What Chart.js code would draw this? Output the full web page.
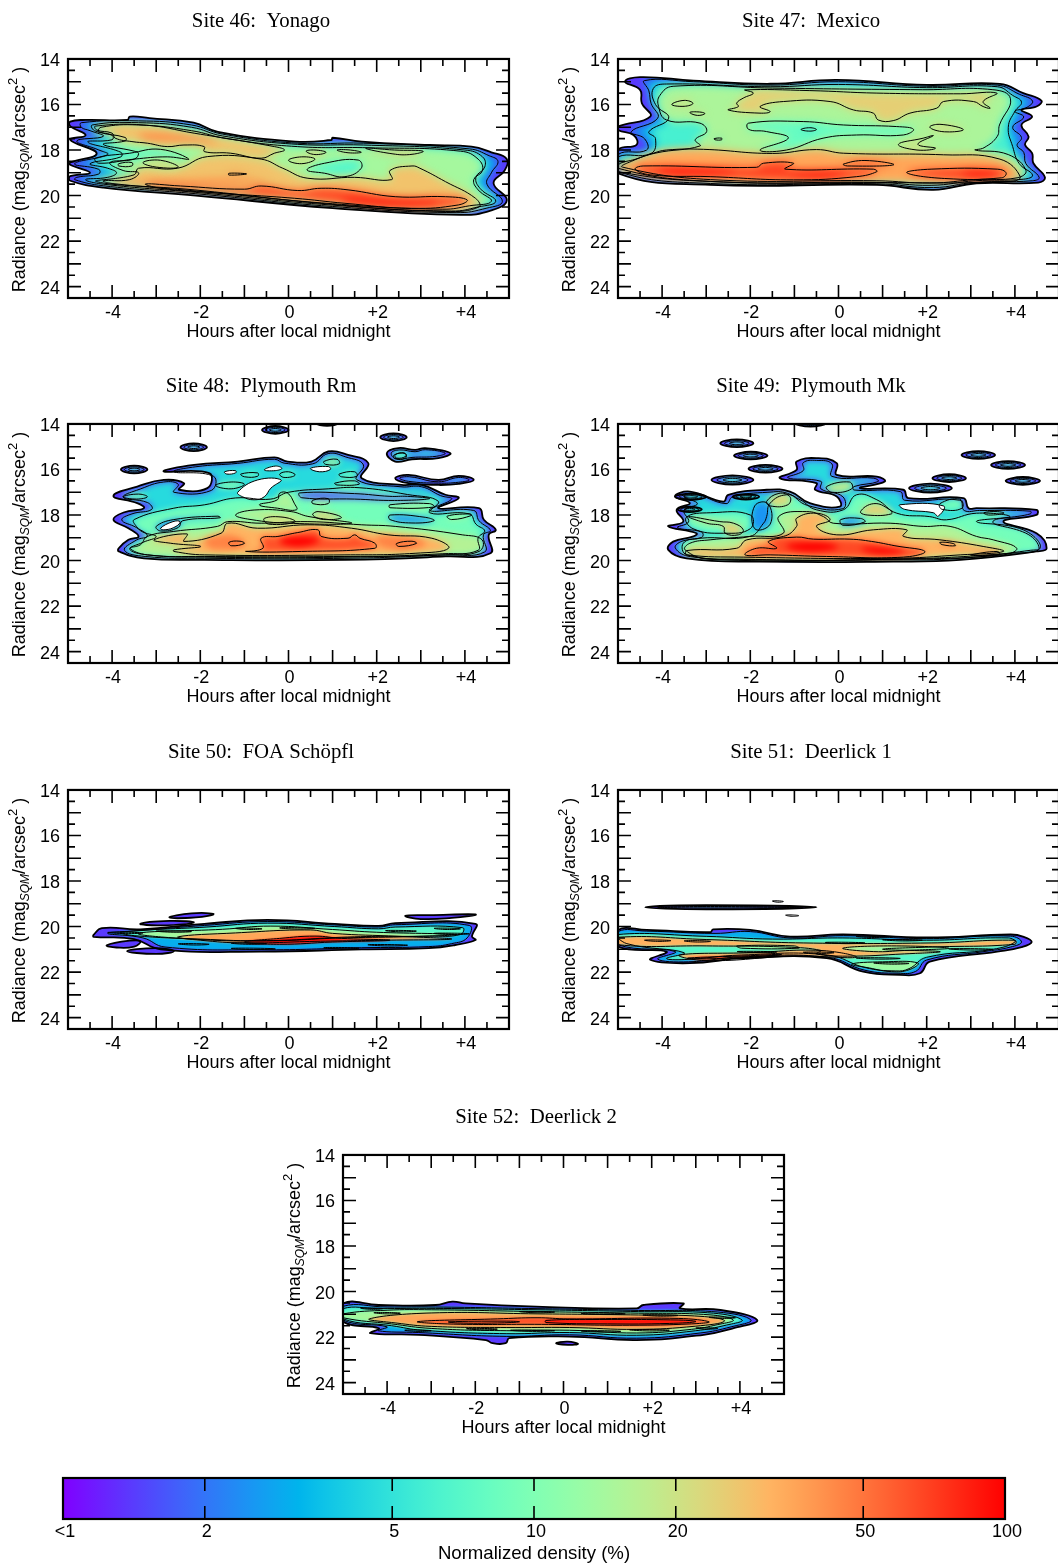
<!DOCTYPE html>
<html lang="en">
<head>
<meta charset="UTF-8">
<title>Sky radiance density, sites 46-52</title>
<script src="https://cdn.jsdelivr.net/npm/chart.js"></script>
<style>
  html, body { margin: 0; padding: 0; background: #fff; }
  body { position: relative; width: 1058px; height: 1563px; overflow: hidden; }
  canvas { position: absolute; }
</style>
</head>
<body>
<script>
// axes
const hourLabels = [-4, -2, 0, 2, 4];
const hourMajor = [-4, -3, -2, -1, 0, 1, 2, 3, 4];
const hourMinor = [-4.5, -3.5, -2.5, -1.5, -0.5, 0.5, 1.5, 2.5, 3.5, 4.5];
const radLabels = [14, 16, 18, 20, 22, 24];
const radMajor = [15, 16, 17, 18, 19, 20, 21, 22, 23, 24];
const radMinor = [14.5, 15.5, 16.5, 17.5, 18.5, 19.5, 20.5, 21.5, 22.5, 23.5];
const barTicks = [1, 2, 5, 10, 20, 50, 100];

// contours: [density inside the line, hour, mag, hour, mag, ...], painted in this order
// a negative density is a colour peak with no line round it, 0 is an empty hole
const yonagoLines = [
  [1.4, -4.95,16.75,-4.6,16.68,-3.65,16.68,-3.6,16.53,-3.15,16.6,-2.15,16.8,-1.6,17.2,0.15,17.63,0.97,17.56,1.0,17.46,1.66,17.63,3.2,17.78,4.15,17.85,4.6,18.1,4.95,18.4,4.9,18.9,4.65,19.46,4.95,20.2,4.6,20.65,3.9,20.85,1.0,20.55,-2.1,20.0,-4.2,19.65,-4.95,19.35,-4.95,19.15,-4.5,19.0,-4.95,18.65,-4.95,18.55,-4.35,18.15,-4.95,17.55,-4.6,17.35,-4.95,16.95],
  [3, -4.7,16.8,-3.4,16.72,-2.2,16.9,-1.5,17.3,0.2,17.7,1.7,17.7,4.1,17.95,4.55,18.25,4.75,18.5,4.6,19.0,4.5,19.5,4.85,20.25,4.5,20.55,3.8,20.75,1,20.48,-2.1,19.92,-4.2,19.57,-4.85,19.3,-4.8,19.2,-4.3,19.05,-4.3,18.85,-4.85,18.6,-4.1,18.2,-4.3,18.0,-4.8,17.6,-4.2,17.4,-4.5,17.15,-4.7,17.0],
  [7, -4.45,16.9,-3.4,16.8,-2.2,17.0,-1.5,17.38,0.2,17.75,1.7,17.78,4.0,18.0,4.4,18.3,4.45,18.75,4.25,19.2,4.35,19.7,4.7,20.25,4.3,20.5,3.7,20.68,1,20.42,-2.1,19.86,-4.2,19.5,-4.6,19.3,-4.1,19.2,-3.9,19.0,-4.1,18.8,-4.5,18.6,-3.8,18.3,-3.8,18.1,-4.55,17.65,-4.0,17.55,-4.0,17.35,-4.4,17.15],
  [14, -4.25,17.0,-3.4,16.9,-2.2,17.15,-1.4,17.5,0.2,17.85,1.8,17.9,3.9,18.05,4.3,18.4,4.4,18.9,4.2,19.3,4.3,19.75,4.6,20.25,4.1,20.45,3.5,20.6,1,20.36,-2.1,19.8,-4.0,19.47,-4.2,19.35,-3.6,19.3,-3.4,19.0,-3.75,18.9,-4.05,18.55,-3.5,18.4,-3.4,18.15,-3.5,18.05,-4.2,17.75,-3.7,17.6,-3.7,17.45,-4.3,17.2],
  [7, -4.38,18.36,-3.6,18.14,-2.9,17.97,-2.26,18.4,-2.75,18.3,-3.5,18.4,-4.3,18.58],
  [7, 0.42,18.87,0.82,18.58,1.58,18.44,1.65,18.8,1.28,19.17,0.82,19.02],
  [28, -4.38,16.95,-3.28,16.9,-2.14,17.26,-0.32,17.85,-0.09,18.0,-0.32,18.14,-0.62,18.36,-1.31,18.14,-1.91,18.07,-1.91,17.85,-2.37,17.78,-2.75,17.85,-3.2,17.7,-3.55,17.63,-3.93,17.48,-4.0,17.26,-4.35,17.12],
  [28, -4.35,19.39,-3.5,19.09,-3.4,18.8,-2.52,18.8,-1.84,18.29,-0.62,18.4,-0.13,18.8,0.44,19.24,1.5,19.2,2.34,19.3,2.3,18.9,2.8,18.7,2.98,18.8,3.56,19.39,4.24,20.12,4.32,20.5,3.56,20.7,0.9,20.37,-2.14,19.75],
  [-44, -3.4,17.3,-2.5,17.35,-1.6,17.65,-2.5,17.6,-3.3,17.5],
  [-40, -4,19.45,-2.5,19.3,-1,19.25,-0.5,19.4,-2.5,19.55],
  [30, 0.4,18.05,0.6,18.0,0.85,18.1,0.6,18.2],
  [30, 1.1,18.0,1.4,18.0,1.65,18.1,1.35,18.12],
  [30, 1.75,17.92,2.4,18.0,3.05,18.05,2.75,18.2,2.3,18.15],
  [22, 0.0,18.45,0.3,18.3,0.6,18.4,0.3,18.6],
  [22, -3.85,18.6,-3.55,18.55,-3.55,18.7,-3.85,18.7],
  [22, -3.3,18.55,-2.9,18.45,-2.5,18.75,-3.0,18.75],
  [65, -3.24,19.49,-2.45,19.58,-1.0,19.72,-0.62,19.58,0.21,19.78,0.74,19.68,1.35,19.75,2.42,20.05,3.56,20.05,4.05,20.19,3.86,20.41,2.8,20.56,1.28,20.34,0.14,20.12,-1.76,19.87,-2.9,19.68],
  [-100, 1.2,20.15,2.4,20.25,3.4,20.3,2.6,20.42,1.4,20.3],
  [45, -1.35,19.02,-0.95,19.05,-1.35,19.1]
];

const mexicoLines = [
  [1.4, -4.84,15.0,-4.5,14.8,-3.29,14.95,-1.55,15.09,-0.04,14.92,2.0,15.14,3.66,15.09,4.19,15.5,4.6,15.83,4.49,16.09,4.15,16.24,4.39,16.53,4.15,16.9,4.31,17.41,4.23,17.77,4.39,18.14,4.42,18.58,4.68,19.2,4.53,19.43,3.13,19.46,2.15,19.75,0.87,19.53,-2.91,19.53,-5,19.02,-5,18.0,-4.58,17.77,-4.65,17.34,-5,17.12,-5,16.97,-4.27,16.53,-4.46,15.94,-4.5,15.36],
  [3, -4.4,14.95,-3.29,15.0,-1.55,15.15,0,15.0,2,15.2,3.6,15.15,4.1,15.55,4.4,15.85,4.25,16.15,4.0,16.3,4.2,16.55,3.95,17,4.15,17.45,4.05,17.8,4.2,18.1,4.25,18.6,4.55,19.2,4.4,19.35,3.1,19.42,2.15,19.65,0.87,19.48,-2.9,19.47,-5,18.95,-5,18.2,-4.35,18.0,-4.4,17.5,-4.7,17.2,-4.1,16.6,-4.25,15.95,-4.3,15.4],
  [6, -4.2,15.3,-3.9,15.1,-1.55,15.22,0,15.12,2,15.26,3.6,15.22,3.95,15.6,4.15,15.9,4.0,16.3,3.85,17,3.95,17.85,4.1,18.6,4.4,19.1,4.2,19.28,3.1,19.35,2.1,19.55,0.87,19.42,-2.9,19.38,-5,18.8,-5,18.3,-4.25,18.15,-4.15,17.5,-4.3,17.2,-3.85,16.6,-4.15,16.0],
  [15, -4.05,15.6,-3.75,15.2,-1.5,15.28,1.9,15.35,3.5,15.35,3.9,15.75,3.65,16.9,3.6,17.4,3.3,17.9,3.1,18.0,3.85,18.2,4.25,18.9,4.05,19.22,3.1,19.3,2.1,19.45,0.87,19.35,-2.9,19.3,-4.9,18.75,-4.7,18.5,-4.16,18.14,-3.14,17.82,-3.25,17.55,-2.99,17.19,-3.14,16.82,-3.9,16.68,-4.08,16.09],
  [8, -2.04,16.82,-2.04,17.09,-1.63,17.19,-1.14,17.48,-1.78,18.0,-1.18,18.0,-0.35,17.48,0.41,17.34,1.47,17.34,1.7,17.09,1.32,16.97,0.11,16.9,-0.8,16.75],
  [5, -0.85,17.1,-0.65,17.02,-0.5,17.1,-0.65,17.17],
  [25, -2.12,15.36,-1.93,15.5,-2.16,15.72,-2.31,15.94,-2.27,16.09,-2.5,16.24,-1.78,16.38,-1.55,16.31,-1.78,16.09,-1.25,15.87,-0.19,15.87,0.34,16.24,0.79,16.38,0.9,16.68,1.24,16.71,1.62,16.38,2.23,16.16,2.38,15.87,3.06,15.87,3.28,16.09,3.44,16.16,3.28,15.87,3.59,15.5,2.76,15.53,0.87,15.5,-0.65,15.39],
  [22, -3.78,16.0,-3.5,15.82,-3.3,15.95,-3.5,16.08],
  [22, -3.37,16.35,-3.15,16.33,-3.03,16.4,-3.2,16.48],
  [22, 2.07,17.0,2.3,16.87,2.83,17.1,2.4,17.2],
  [20, 1.36,17.75,1.92,17.48,2.15,17.37,1.8,17.75,2.2,17.92,1.78,18.0],
  [5, -2.82,17.5,-2.65,17.48,-2.65,17.55,-2.8,17.55],
  [35, -5,18.65,-4.6,18.4,-4.2,18.14,-3.9,18.0,-3.06,17.97,-1.5,18.15,-0.5,17.98,0.11,18.14,2.38,18.21,3.66,18.4,4.12,19.17,3.89,19.38,0.87,19.43,-2.91,19.38,-5,18.95],
  [68, -4.61,18.84,-4.43,18.7,-1.86,18.76,-1.7,18.58,-1.02,18.58,-1.21,18.84,0.79,18.84,0.87,18.95,0.41,19.17,-1.02,19.31,-2.91,19.17,-4.27,19.09],
  [58, 0.11,18.62,0.6,18.46,1.25,18.65,0.2,18.7],
  [68, 1.55,19.0,2.1,18.84,3.6,18.84,3.8,19.0,3.7,19.22,2.4,19.25],
  [-100, -4.1,18.9,-3,18.88,-2.3,18.95,-3,19.05,-4,19.02],
  [-95, -1.2,19.08,-0.3,19,0.2,19.05,-0.5,19.18],
  [-95, 2.8,19,3.5,18.98,3.6,19.1,3,19.12]
];

const plymouthRmLines = [
  [1.4, -3.97,17.16,-3.43,16.75,-2.83,16.46,-2.37,16.6,-2.48,16.89,-1.84,16.82,-1.8,16.16,-2.83,16.09,-2.14,15.8,-1.15,15.65,-0.32,15.47,-0.02,15.65,0.52,15.65,0.9,15.21,1.35,15.36,1.81,15.72,1.66,16.38,2.57,16.68,3.02,16.68,3.56,17.11,3.86,17.26,3.4,17.7,4.32,17.7,4.43,18.21,4.7,18.65,4.54,18.87,4.58,19.68,3.56,19.82,1.28,19.97,-1.9,19.97,-3.28,19.9,-3.85,19.6,-3.85,19.46,-3.63,19.09,-3.4,18.94,-3.63,18.58,-3.97,18.21,-3.74,17.89,-3.28,17.7,-3.43,17.48],
  [4.5, -3.75,17.22,-3.35,16.85,-2.83,16.55,-2.5,16.65,-2.6,17.0,-1.75,16.92,-1.7,16.3,-2.6,16.1,-2.1,15.88,-1.15,15.73,-0.32,15.55,-0.1,15.72,0.55,15.75,0.9,15.3,1.3,15.45,1.7,15.8,1.55,16.45,2.55,16.76,3.02,16.76,3.45,17.15,3.7,17.3,3.2,17.8,4.2,17.8,4.32,18.25,4.58,18.68,4.42,18.87,4.45,19.62,3.56,19.75,1.28,19.9,-1.9,19.9,-3.25,19.82,-3.72,19.55,-3.45,19.1,-3.2,18.92,-3.45,18.55,-3.78,18.22,-3.55,17.95,-3.1,17.75,-3.2,17.45],
  [9, -3.45,18.5,-3.5,18.2,-2.6,17.7,-1.9,17.55,-1.2,17.25,-0.4,17.3,0,17,0.9,16.85,1.6,16.8,2.7,17.1,3.4,17.4,3.2,17.9,4.1,17.95,4.25,18.4,4.45,18.7,4.3,19.0,4.3,19.55,3.5,19.7,1.28,19.85,-1.9,19.85,-3.2,19.75,-3.6,19.5,-3.3,19.2,-3.0,18.95,-3.3,18.75],
  [16, -3.2,18.94,-2.6,18.72,-1.61,18.5,-1.38,18.29,-0.62,18.36,0.44,18.29,1.66,18.43,2.42,18.5,3.94,18.87,4.39,19.09,4.32,19.6,3.56,19.75,1.28,19.82,-1.91,19.82,-3.2,19.75,-3.59,19.46,-3.36,19.31],
  [15, -0.66,17.55,-0.25,17.33,-0.2,17.04,-0.02,17.04,0.13,17.48,0.18,17.77,-0.25,17.7],
  [16, -1.2,18.0,-0.78,17.78,0.06,17.85,0.44,18.06,1.43,18.36,0.0,18.36,-0.85,18.2],
  [11, -3.75,17.2,-3.4,17.08,-3.2,17.2,-3.45,17.3],
  [11, -1.65,16.7,-1.3,16.55,-1,16.65,-1.3,16.85],
  [9, -0.2,16.2,0,16.1,0.15,16.25,-0.1,16.35],
  [9, -1.08,16.2,-0.7,16.15,-0.7,16.3,-1.0,16.32],
  [16, 0.8,15.65,1.1,15.55,1.15,15.75,0.85,15.78],
  [9, 1.15,16.2,1.5,16.1,1.55,16.3,1.2,16.32],
  [15, 0.55,17.35,0.9,17.28,0.9,17.5,0.55,17.5],
  [14, 2.3,17.55,3.2,17.5,3.3,17.65,2.3,17.68],
  [9, 2.4,15.35,2.65,15.3,2.65,15.5,2.4,15.5],
  [14, 1.05,16.6,1.5,16.5,1.6,16.65,1.1,16.68],
  [14, 3.6,18.05,4.1,17.95,4.15,18.02,3.7,18.2],
  [32, -3.05,19.09,-2.3,18.83,-2.37,19.16,-1.53,18.8,-1.38,18.36,-0.7,18.58,0.44,18.43,1.43,18.58,2.26,18.87,3.25,19.02,3.63,19.46,2.87,19.68,1.28,19.75,-1.91,19.75,-2.6,19.6,-2.6,19.53,-1.99,19.38,-2.67,19.24],
  [-45, -1.9,19.1,-1.3,18.9,-1,19.3,-1.7,19.5],
  [-45, 2,18.95,3,19.1,3.1,19.35,2.2,19.45],
  [24, 0.67,17.85,1.2,18.1,0.8,18.2,0.55,18.0],
  [22, -0.55,18.15,-0.1,18.1,0.15,18.3,-0.45,18.4],
  [62, -0.96,19.6,-0.58,19.46,-0.62,19.02,-0.24,18.94,0.21,18.77,0.67,18.65,0.74,18.94,1.35,19.02,1.5,18.87,1.62,19.02,1.96,19.24,1.96,19.46,0.29,19.6],
  [-100, -0.2,19.1,0.3,18.95,0.7,19.1,0.4,19.35,-0.1,19.3],
  [50, -1.35,19.2,-1.1,19.15,-1.0,19.25,-1.3,19.35],
  [50, 2.45,19.25,2.8,19.15,2.9,19.25,2.5,19.38],
  [1.6, 0.25,17.03,1.5,17.06,2.3,17.18,2.7,17.18,3.2,17.28,2.4,17.36,1.5,17.3,0.3,17.24],
  [2.5, -3,18.5,-2.6,18.2,-1.6,18.05,-1.55,18.12,-2.4,18.25,-2.5,18.55,-2.9,18.7],
  [2.5, 2.3,18.0,3.1,18.1,3.3,18.25,2.8,18.35,2.3,18.2],
  [0, -2.9,18.58,-2.62,18.29,-2.46,18.29,-2.55,18.5,-2.8,18.65],
  [0, -1.15,17.0,-0.7,16.46,-0.17,16.46,-0.4,16.82,-0.55,17.2,-0.78,17.33,-1.04,17.2],
  [0, -1.45,16.1,-1.2,16.05,-1.2,16.15,-1.4,16.2],
  [0, -0.55,16.02,-0.3,15.85,-0.15,15.95,-0.3,16.05],
  [0, 0.5,15.95,0.9,15.87,0.95,16.0,0.7,16.1],
  [1.4, 2.23,15.28,2.49,15.06,2.87,15.14,3.1,15.06,3.67,15.28,3.4,15.5,2.8,15.55,2.42,15.65],
  [4.5, 2.33,15.28,2.52,15.14,2.87,15.22,3.1,15.13,3.55,15.28,3.35,15.42,2.8,15.47,2.45,15.55],
  [9, 2.42,15.35,2.62,15.27,2.66,15.42,2.45,15.5],
  [1.4, 2.42,16.38,2.72,16.24,3.4,16.46,3.86,16.28,4.2,16.46,3.86,16.63,3.4,16.68,2.72,16.6],
  [4.5, 2.52,16.38,2.75,16.32,3.4,16.54,3.86,16.35,4.1,16.46,3.86,16.56,3.4,16.6,2.72,16.52]
];
const plymouthRmBlobs = [[-3.8, -3.2, 16.0, 0.17], [-2.45, -1.85, 15.02, 0.17], [-0.6, 0, 14.26, 0.17], [2.08, 2.68, 14.58, 0.17], [0.63, 1.12, 13.98, 0.1]];

const plymouthMkLines = [
  [1.4, -3.86,19.53,-3.75,19.17,-3.29,18.94,-3.22,18.8,-3.86,18.5,-3.52,18.29,-3.67,17.77,-3.37,17.48,-3.71,17.19,-3.37,16.97,-2.61,17.41,-2.5,17.11,-1.63,16.89,-1.1,16.97,-0.65,17.48,0.03,17.63,-0.04,17.19,-0.53,16.89,-0.5,16.6,-1.33,16.38,-0.95,16.02,-0.95,15.65,-0.5,15.5,-0.04,15.72,-0.04,16.24,0.87,16.31,1.05,16.53,0.49,16.82,1.47,16.89,1.58,17.26,2.83,17.26,2.95,17.7,3.13,17.7,4.49,17.77,4.49,17.99,3.74,18.29,4.49,18.8,4.72,19.46,4.49,19.6,2.76,19.97,1.24,20.05,-1.8,20.05,-3.45,19.9],
  [4.5, -3.7,19.45,-3.55,19.15,-3.1,18.98,-3.1,18.75,-3.65,18.55,-3.4,18.3,-3.5,17.8,-3.2,17.5,-3.5,17.2,-3.3,17.05,-2.55,17.5,-2.4,17.2,-1.6,17.0,-1.15,17.05,-0.7,17.58,0.1,17.72,0.1,17.2,-0.4,16.85,-0.4,16.52,-1.15,16.36,-0.8,16.05,-0.8,15.7,-0.5,15.6,-0.15,15.75,-0.15,16.3,0.8,16.38,0.9,16.53,0.35,16.75,0.35,16.9,1.4,16.97,1.5,17.35,2.75,17.35,2.85,17.8,3.2,17.8,4.35,17.83,4.35,17.95,3.5,18.3,4.3,18.85,4.55,19.45,4.35,19.55,2.76,19.9,1.24,19.97,-1.8,19.97,-3.35,19.83],
  [9, -3.52,19.24,-3.14,19.02,-2.01,18.94,-1.7,18.36,-1.63,18.07,-1.55,17.48,-1.18,17.11,-0.87,17.33,-0.5,17.77,0.11,17.77,0.41,17.11,0.87,17.33,1.32,17.92,2.07,18.07,2.45,18.21,3.13,17.92,3.89,18.07,3.13,18.29,4.19,18.65,4.57,19.46,3.89,19.68,1.24,19.94,-2.16,19.94,-3.44,19.75],
  [9, -3.45,18.1,-2.9,17.9,-2.0,18.0,-2,18.6,-2.6,18.8,-3.3,18.6],
  [16, -3.48,19.53,-3.37,19.24,-2.91,19.09,-2.01,18.94,-1.25,18.8,-1.36,18.07,-0.72,17.85,-0.34,18.07,-0.12,18.36,1.17,18.36,1.92,18.5,2.53,18.5,3.13,18.94,3.51,19.09,4.04,19.46,3.74,19.75,1.32,19.94,-2.91,19.94],
  [24, -3.4,18.07,-2.69,18.29,-2.38,18.36,-2.16,18.65,-2.27,18.87,-2.57,18.8,-2.61,18.5,-2.99,18.36],
  [22, -1.63,17.4,-1.35,17.05,-1.1,17.2,-1.15,17.55,-1.55,17.6],
  [18, -0.27,16.75,0.25,16.55,0.3,16.85,-0.15,17.0],
  [24, 0.5,17.85,0.8,17.5,1.15,17.75,1.2,17.95,0.65,18.0],
  [9, 2.3,17.5,2.75,17.3,2.8,17.7,2.35,17.75],
  [2.5, 0.05,18.2,0.5,18.15,0.6,18.3,0.1,18.45],
  [2.5, -1.9,17.6,-1.6,17.5,-1.55,18.4,-1.9,18.6],
  [12, 3.3,17.9,3.6,17.85,3.75,17.92,3.4,18.0],
  [32, -2.31,19.46,-2.08,19.09,-1.25,18.94,-0.95,18.5,-0.95,18.14,-0.5,17.92,-0.19,18.21,-0.5,18.5,-0.04,18.87,0.79,18.65,1.55,18.65,1.47,18.94,2.3,19.09,3.28,19.38,3.74,19.6,2.76,19.75,1.24,19.9,-2.16,19.85,-3.44,19.75,-3.44,19.56],
  [-45, -1.7,19.3,-1,19,-1.2,19.5,-1.8,19.6],
  [65, -2.12,19.75,-1.86,19.46,-1.4,19.46,-1.59,19.16,-0.95,18.97,-0.57,19.06,0.26,19.06,0.75,19.16,1.28,19.35,1.96,19.6,1.47,19.85,-0.27,19.82,-1.55,19.75],
  [-100, -1.2,19.35,-0.5,19.2,0,19.4,-0.7,19.6],
  [-100, 0.5,19.45,1,19.45,1.5,19.6,0.9,19.7],
  [50, 3.0,19.75,3.6,19.6,3.65,19.72,3.1,19.78],
  [50, 2.3,19.2,2.6,19.25,2.65,19.35,2.35,19.3],
  [0, 1.39,17.55,2.38,17.6,2.26,18.05,2.15,17.9,1.5,17.75]
];
const plymouthMkBlobs = [[-2.68, -1.93, 14.85, 0.17], [-2.37, -1.61, 15.39, 0.17], [-2.04, -1.27, 15.97, 0.17], [-2.88, -1.93, 16.46, 0.2], [2.79, 3.55, 15.36, 0.17], [3.46, 4.23, 15.8, 0.17], [3.79, 4.57, 16.5, 0.17], [2.13, 2.89, 16.38, 0.17], [1.6, 2.57, 16.82, 0.2], [-1.0, -0.27, 13.95, 0.17], [-3.7, -3.0, 17.2, 0.14], [-3.65, -3.1, 17.75, 0.12], [-2.4, -1.8, 17.2, 0.12]];

const schopflLines = [
  [1.4, -4.42,20.37,-4.23,20.07,-3.36,20.12,-1.91,19.88,-0.47,19.71,1.05,19.88,2.04,19.97,2.42,19.85,4.24,19.88,4.16,20.44,4.24,20.59,3.78,20.81,3.18,20.95,1.66,21.0,-0.62,21.1,-2.9,21.0,-3.5,20.55,-4.42,20.45],
  [1.4, -4.12,20.82,-3.6,20.62,-3.36,20.65,-3.5,20.88,-3.9,20.92],
  [1.4, -3.66,21.08,-3.0,20.95,-2.6,21.08,-3.0,21.2],
  [1.4, -3.36,19.88,-2.7,19.75,-2.15,19.82,-2.9,19.95],
  [1.4, -2.7,19.6,-2.2,19.42,-1.7,19.45,-2.1,19.6],
  [1.4, 2.65,19.53,3.2,19.5,4.24,19.47,3.7,19.62,3.0,19.67],
  [3, -4.1,20.3,-3.3,20.17,-1.9,19.95,-0.47,19.78,1.05,19.93,2.04,20.02,2.42,19.92,4.1,19.95,4.05,20.5,3.7,20.75,3.18,20.88,1.66,20.93,-0.62,21.02,-2.8,20.9,-3.3,20.5],
  [7, -3.8,20.25,-1.85,20.02,-0.47,19.85,1.05,20,2.04,20.1,2.42,20.02,3.95,20.05,3.9,20.35,3.2,20.42,1.5,20.45,-0.5,20.62,-2.0,20.55,-3.5,20.4],
  [14, -3.4,20.3,-1.5,20.12,-0.4,19.98,1.0,20.13,2,20.25,3.8,20.35,2.6,20.45,1.2,20.5,-0.5,20.63,-2.2,20.55],
  [35, -2.5,20.45,-1.2,20.28,0.5,20.15,1.0,20.3,2.5,20.43,3.7,20.55,2.2,20.6,0.6,20.65,-1.0,20.72,-2.0,20.6],
  [90, -1.0,20.68,-0.2,20.52,0.6,20.42,1.2,20.52,2.3,20.6,1.0,20.68,-0.2,20.78]
];
const schopflDashes = [[-1.3,-0.5,20.75],[-1.3,-0.3,20.98],[0.8,1.6,20.95],[-1.2,-0.6,20.1],[-0.2,0.6,20.08],[2.2,2.9,20.2],[3.3,3.9,20.1],[3.3,4.1,20.32],[-3.0,-2.2,20.22],[1.8,2.7,20.82],[-2.5,-1.8,20.78],[-4.1,-3.3,20.28]];

const deerlick1Lines = [
  [1.4, -5,20.15,-4.35,20.15,-2.91,20.25,-2.84,20.12,-2.0,20.15,-1.1,20.44,0.11,20.34,2.0,20.48,3.9,20.35,4.2,20.45,4.38,20.68,4.15,20.9,3.6,21.1,2.07,21.54,1.85,22.05,1.39,22.12,0.56,21.98,-0.27,21.39,-2.16,21.39,-3.37,21.61,-4.27,21.46,-3.9,21.1,-5,20.88],
  [1.4, -4.38,19.15,-3,19.06,-0.5,19.15,-3,19.24],
  [3, -5,20.22,-4.35,20.2,-2.8,20.3,-2.0,20.22,-1.1,20.5,0.11,20.4,2,20.53,3.9,20.42,4.15,20.68,3.9,20.9,3.3,21.1,2.0,21.47,1.75,21.97,1.35,22.05,0.6,21.92,-0.25,21.35,-2.2,21.33,-3.4,21.55,-4.1,21.43,-3.7,21.1,-5,20.8],
  [8, -4.1,19.15,-3,19.12,-0.8,19.15,-3,19.18],
  [7, -5,20.35,-3,20.43,-1.5,20.55,0.1,20.5,2,20.6,3.85,20.5,4,20.68,3.5,21,2,21.35,1.6,21.85,1.3,21.95,0.6,21.8,-0.25,21.25,-2.2,21.25,-3.5,21.45,-3.9,21.4,-3.5,21.15,-4.8,20.75],
  [32, -5,20.47,-3,20.57,-0.8,20.72,2.1,20.72,4.0,20.6,4.0,20.78,2.1,20.9,1.0,21.0,2.3,21.1,1.5,21.2,0.2,21.3,-0.5,21.2,-0.4,21.05,-1.2,20.9,-3.0,20.85,-5,20.8],
  [13, 0.1,20.95,1.2,20.85,2.5,20.95,1.5,21.05,0.8,21.1],
  [13, -2.3,20.85,-1,20.85,-0.9,20.95,-2.2,20.95],
  [32, -3.6,21.25,-2,21.15,-0.4,21.05,0.4,21.35,-1,21.3,-3,21.5],
  [100, -3.4,21.38,-2,21.28,-1.3,21.22,-1.5,21.28,-3.0,21.42],
  [13, 0.3,21.65,1,21.55,1.8,21.6,1.6,21.9,1.2,21.98,0.7,21.82]
];
const deerlick1Dashes = [[-1.5,-1.25,18.9],[-1.2,-0.9,19.52],[-4.4,-3.8,20.62],[-3.5,-2.9,20.65],[0.4,1.1,20.45],[1.0,1.9,20.6],[-0.3,0.6,20.72],[-2.3,-1.4,21.12],[0.4,1.4,21.4],[0.8,1.6,21.62],[-0.8,-0.1,21.15],[2.5,3.5,21.0]];

const deerlick2Lines = [
  [1.4, -5,20.52,-4.19,20.59,-2.9,20.59,-2.52,20.44,-2.22,20.52,-0.62,20.66,1.66,20.74,1.81,20.59,2.72,20.52,2.64,20.74,3.56,20.81,4.39,21.25,3.86,21.61,3.18,21.9,1.66,22.13,0.14,21.98,-1.23,22.05,-1.31,22.27,-1.61,22.27,-1.76,22.13,-3.28,21.9,-4.38,21.83,-4.19,21.61,-5,21.32],
  [1.4, -0.17,22.27,0.1,22.2,0.33,22.3,0.1,22.34],
  [3, -5,20.65,-4,20.68,-2.9,20.68,-0.6,20.75,1.7,20.83,3.5,20.9,4.25,21.25,3.8,21.55,3.1,21.82,1.66,22.05,0.14,21.9,-1.3,21.97,-3.28,21.8,-4.2,21.72,-4,21.55,-5,21.25],
  [7, -5,20.75,-4.2,20.75,-2.9,20.74,-0.6,20.8,1.7,20.88,3.4,20.95,4.05,21.25,3.7,21.47,3,21.72,1.66,21.92,0.14,21.8,-1.3,21.85,-3.2,21.7,-3.9,21.5,-5,21.2],
  [14, -5,20.98,-4,20.82,-3,20.8,-0.6,20.88,1.7,20.95,3.3,21.02,3.85,21.25,3.5,21.45,2.9,21.66,1.66,21.82,0.14,21.7,-1.3,21.72,-3,21.62,-3.9,21.42,-5,21.15],
  [35, -4.4,21.2,-3,20.94,-0.6,20.98,1.7,21.03,3.2,21.1,3.65,21.3,3,21.52,1.66,21.66,0.14,21.58,-1.3,21.58,-3,21.53,-3.8,21.38],
  [62, -3.3,21.32,-1.5,21.2,-0.6,21.15,0.1,21.2,2.6,21.18,3.3,21.33,2.9,21.42,1.5,21.48,-0.5,21.44,-2.5,21.43],
  [95, -0.4,21.27,0.5,21.23,2.6,21.25,3.0,21.32,2.4,21.4,1,21.42,-0.4,21.36],
  [60, -2.6,21.33,-1.3,21.3,-1.0,21.33,-1.5,21.38,-2.4,21.38]
];
const deerlick2Dashes = [[-4.6,-4.1,20.75],[-1.0,-0.2,20.9],[0.4,1.4,20.98],[1.8,2.6,21.05],[-2.2,-1.5,21.65],[-1.2,-0.2,21.72],[0.4,1.3,21.75],[1.5,2.4,21.7],[3.0,3.5,21.62],[3.3,3.9,21.15],[-3.6,-3.0,21.72],[-4.3,-3.7,20.95]];

// canvas spot of each panel, the plot frame sits 68px in and 59px down
const panelSpots = [
  { title: 'Site 46:  Yonago', left: 0, top: 0, lines: yonagoLines, blobs: [], dashes: [], blur: 4 },
  { title: 'Site 47:  Mexico', left: 550, top: 0, lines: mexicoLines, blobs: [], dashes: [], blur: 4 },
  { title: 'Site 48:  Plymouth Rm', left: 0, top: 365, lines: plymouthRmLines, blobs: plymouthRmBlobs, dashes: [], blur: 3 },
  { title: 'Site 49:  Plymouth Mk', left: 550, top: 365, lines: plymouthMkLines, blobs: plymouthMkBlobs, dashes: [], blur: 3 },
  { title: 'Site 50:  FOA Schöpfl', left: 0, top: 731, lines: schopflLines, blobs: [], dashes: schopflDashes, blur: 1 },
  { title: 'Site 51:  Deerlick 1', left: 550, top: 731, lines: deerlick1Lines, blobs: [], dashes: deerlick1Dashes, blur: 1 },
  { title: 'Site 52:  Deerlick 2', left: 275, top: 1096, lines: deerlick2Lines, blobs: [], dashes: deerlick2Dashes, blur: 1.5 }
];

const TICK_FONT = { family: '"Liberation Sans", Arial, sans-serif', size: 18 };
const OUTER = 1.4;

// same rainbow as the colour bar, density in percent on a log scale
function palette(v) {
  const t = Math.min(1, Math.log10(Math.max(v, 1)) / 2);
  const clip = c => Math.round(255 * Math.min(1, Math.max(0, c)));
  return `rgb(${clip(Math.abs(2 * t - 0.5))},${clip(Math.sin(Math.PI * t))},${clip(Math.cos(Math.PI * t / 2))})`;
}

function toPoints(flat) {
  const pts = [];
  for (let i = 0; i < flat.length; i += 2) pts.push({ x: flat[i], y: flat[i + 1] });
  return pts;
}

function lineDataset(value, flat, width) {
  return {
    data: toPoints(flat), value, showLine: true, fill: false, tension: 0.45,
    borderColor: '#000', borderWidth: width, pointRadius: 0, pointHitRadius: 0
  };
}

function panelDatasets(p) {
  const sets = p.lines.map(l => lineDataset(l[0], l.slice(1), l[0] < 0 ? 0 : l[0] === OUTER ? 1.8 : 1));
  p.blobs.forEach(([a, b, m, hh]) => {
    const c = (a + b) / 2, w = (b - a) / 2;
    sets.push(lineDataset(OUTER, [a,m, c,m-hh, b,m, c,m+hh], 1.8));
    sets.push(lineDataset(4.5, [c-w*0.75,m, c,m-hh*0.68, c+w*0.75,m, c,m+hh*0.68], 1));
    sets.push(lineDataset(10, [c-w*0.45,m, c,m-hh*0.36, c+w*0.45,m, c,m+hh*0.36], 1));
  });
  p.dashes.forEach(([a, b, m]) => {
    sets.push(lineDataset(null, [a,m-0.02, (a+b)/2,m-0.03, b,m, (a+b)/2,m+0.03], 1));
  });
  return sets;
}

// closes the contour lines and paints the density under them
const contourPlugin = {
  id: 'contourPlugin',
  afterDatasetsUpdate(chart) {
    chart.data.datasets.forEach((d, i) => {
      const line = chart.getDatasetMeta(i).dataset;
      line._loop = true;
      line._fullLoop = true;
      delete line._segments;
      line._pointsUpdated = false;
    });
  },
  beforeDatasetsDraw(chart, args, opts) {
    const { ctx, chartArea: a } = chart;
    const sets = chart.data.datasets;
    const lineOf = i => {
      const line = chart.getDatasetMeta(i).dataset;
      line.updateControlPoints(a, 'x');
      return line;
    };
    ctx.save();
    ctx.beginPath();
    ctx.rect(a.left, a.top, a.width, a.height);
    ctx.clip();
    ctx.beginPath();
    sets.forEach((d, i) => {
      if (d.value === OUTER && lineOf(i).path(ctx)) ctx.closePath();
    });
    ctx.fillStyle = palette(OUTER);
    ctx.fill();
    ctx.clip();
    ctx.filter = `blur(${opts.blur}px)`;
    sets.forEach((d, i) => {
      if (d.value === null || d.value === OUTER || d.value === 0) return;
      ctx.beginPath();
      if (lineOf(i).path(ctx)) ctx.closePath();
      ctx.fillStyle = palette(Math.abs(d.value));
      ctx.fill();
    });
    ctx.filter = 'none';
    sets.forEach((d, i) => {
      if (d.value !== 0) return;
      ctx.beginPath();
      if (lineOf(i).path(ctx)) ctx.closePath();
      ctx.fillStyle = '#fff';
      ctx.fill();
    });
    ctx.restore();
  }
};

// inward ticks on all four sides plus the frame
const framePlugin = {
  id: 'framePlugin',
  afterDatasetsDraw(chart) {
    const { ctx, chartArea: a, scales } = chart;
    ctx.save();
    ctx.strokeStyle = '#000';
    ctx.lineWidth = 1.6;
    ctx.beginPath();
    const xTick = (v, len) => {
      const x = scales.x.getPixelForValue(v);
      ctx.moveTo(x, a.top); ctx.lineTo(x, a.top + len);
      ctx.moveTo(x, a.bottom); ctx.lineTo(x, a.bottom - len);
    };
    const yTick = (v, len) => {
      const y = scales.y.getPixelForValue(v);
      ctx.moveTo(a.left, y); ctx.lineTo(a.left + len, y);
      ctx.moveTo(a.right, y); ctx.lineTo(a.right - len, y);
    };
    hourMajor.forEach(v => xTick(v, 13));
    hourMinor.forEach(v => xTick(v, 7));
    radMajor.forEach(v => yTick(v, 13));
    radMinor.forEach(v => yTick(v, 7));
    ctx.stroke();
    ctx.lineWidth = 2.2;
    ctx.strokeRect(a.left, a.top, a.width, a.height);
    ctx.restore();
  }
};

// y title has a subscript and a superscript so it is set by hand
const yTitlePlugin = {
  id: 'yTitlePlugin',
  afterDraw(chart) {
    const { ctx, chartArea: a } = chart;
    const parts = [
      ['Radiance (mag', '18px', 0], ['SQM', 'italic 12px', 4], ['/arcsec', '18px', 0], ['2', '13px', -8], [' )', '18px', 0]
    ];
    const fam = '"Liberation Sans", Arial, sans-serif';
    ctx.save();
    ctx.fillStyle = '#000';
    ctx.textBaseline = 'alphabetic';
    let total = 0;
    parts.forEach(p => { ctx.font = `${p[1]} ${fam}`; total += ctx.measureText(p[0]).width; });
    ctx.translate(25, (a.top + a.bottom) / 2 + 1);
    ctx.rotate(-Math.PI / 2);
    let x = -total / 2;
    parts.forEach(p => {
      ctx.font = `${p[1]} ${fam}`;
      ctx.fillText(p[0], x, p[2]);
      x += ctx.measureText(p[0]).width;
    });
    ctx.restore();
  }
};

function addCanvas(left, top, w, h) {
  const c = document.createElement('canvas');
  c.width = w; c.height = h;
  c.style.left = left + 'px'; c.style.top = top + 'px';
  c.style.width = w + 'px'; c.style.height = h + 'px';
  document.body.appendChild(c);
  return c;
}

panelSpots.forEach(p => {
  new Chart(addCanvas(p.left, p.top, 522, 345), {
    type: 'scatter',
    data: { datasets: panelDatasets(p) },
    plugins: [contourPlugin, framePlugin, yTitlePlugin],
    options: {
      responsive: false,
      animation: false,
      layout: { padding: { left: 13, right: 13 } },
      plugins: {
        legend: { display: false },
        tooltip: { enabled: false },
        contourPlugin: { blur: p.blur },
        title: {
          display: true, text: p.title, color: '#000',
          font: { family: '"Liberation Serif", "Times New Roman", serif', size: 20.8, weight: 'normal' },
          padding: { top: 9, bottom: 25 }
        }
      },
      scales: {
        x: {
          type: 'linear', min: -5, max: 5,
          grid: { display: false, drawTicks: false },
          border: { display: false },
          afterBuildTicks: axis => { axis.ticks = hourLabels.map(v => ({ value: v })); },
          afterFit: axis => { axis.height = 47; },
          ticks: {
            color: '#000', font: TICK_FONT, padding: 4, labelOffset: 1, maxRotation: 0, autoSkip: false,
            callback: v => (v > 0 ? '+' + v : String(v))
          },
          title: { display: true, text: 'Hours after local midnight', color: '#000', font: TICK_FONT, padding: { top: 0, bottom: 2 } }
        },
        y: {
          type: 'linear', reverse: true, min: 14, max: 24.5,
          grid: { display: false, drawTicks: false },
          border: { display: false },
          afterBuildTicks: axis => { axis.ticks = radLabels.map(v => ({ value: v })); },
          afterFit: axis => { axis.width = 55; },
          ticks: { color: '#000', font: TICK_FONT, padding: 8, labelOffset: 2, autoSkip: false }
        }
      }
    }
  });
});

// colour bar
const barFramePlugin = {
  id: 'barFramePlugin',
  afterDatasetsDraw(chart) {
    const { ctx, chartArea: a, scales } = chart;
    ctx.save();
    ctx.strokeStyle = '#000';
    ctx.lineWidth = 1.6;
    ctx.beginPath();
    barTicks.forEach(v => {
      const x = scales.x.getPixelForValue(v);
      ctx.moveTo(x, a.top); ctx.lineTo(x, a.top + 13);
      ctx.moveTo(x, a.bottom); ctx.lineTo(x, a.bottom - 13);
    });
    ctx.stroke();
    ctx.lineWidth = 2.2;
    ctx.strokeRect(a.left, a.top, a.width, a.height);
    ctx.restore();
  }
};

new Chart(addCanvas(0, 1465, 1058, 98), {
  type: 'bar',
  data: {
    labels: ['density'],
    datasets: [{
      data: [[1, 100]],
      barPercentage: 1, categoryPercentage: 1,
      backgroundColor: ctx => {
        const a = ctx.chart.chartArea;
        if (!a) return '#888';
        const g = ctx.chart.ctx.createLinearGradient(a.left, 0, a.right, 0);
        for (let i = 0; i <= 40; i++) g.addColorStop(i / 40, palette(Math.pow(10, i / 20)));
        return g;
      }
    }]
  },
  plugins: [barFramePlugin],
  options: {
    indexAxis: 'y',
    responsive: false,
    animation: false,
    layout: { padding: { left: 63, right: 53, top: 13 } },
    plugins: { legend: { display: false }, tooltip: { enabled: false } },
    scales: {
      x: {
        type: 'logarithmic', min: 1, max: 100,
        grid: { display: false, drawTicks: false },
        border: { display: false },
        afterBuildTicks: axis => { axis.ticks = barTicks.map(v => ({ value: v })); },
        afterFit: axis => { axis.height = 44; },
        ticks: {
          color: '#000', font: TICK_FONT, padding: 2, labelOffset: 2, maxRotation: 0, autoSkip: false,
          callback: v => (v === 1 ? '<1' : String(v))
        },
        title: { display: true, text: 'Normalized density (%)', color: '#000', font: { family: TICK_FONT.family, size: 18.6 }, padding: { top: 0, bottom: -2 } }
      },
      y: { display: false, afterFit: axis => { axis.width = 0; } }
    }
  }
});
</script>
</body>
</html>
